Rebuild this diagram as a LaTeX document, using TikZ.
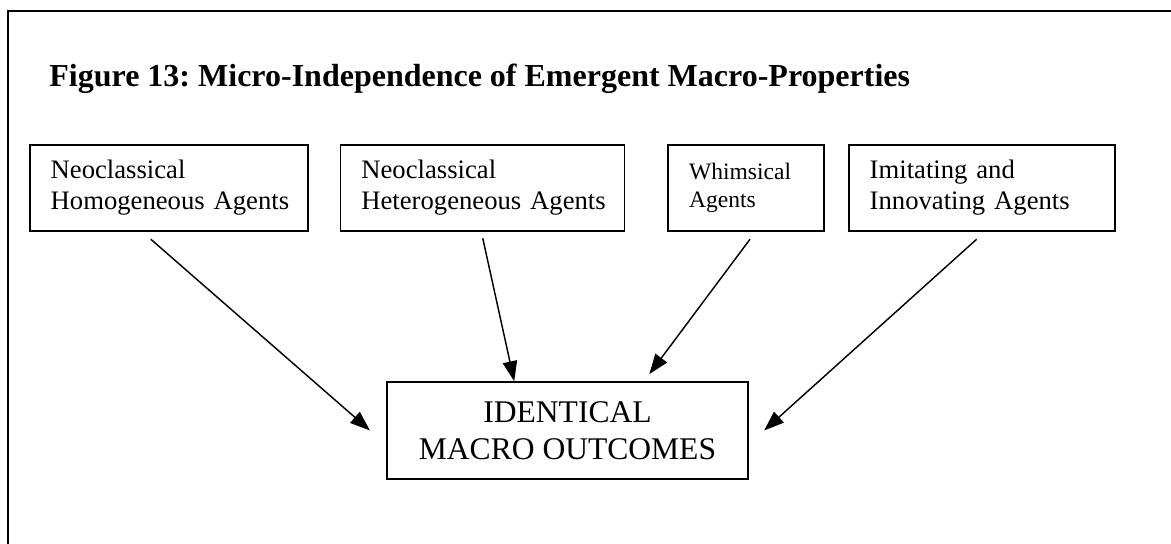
\documentclass[tikz,border=0pt]{standalone}
\usepackage{fontspec}
\setmainfont{Liberation Serif}
\usetikzlibrary{arrows.meta,positioning}
\frenchspacing

\begin{document}
\begin{tikzpicture}[
  x=0.45pt, y=-0.45pt,
  agent/.style={draw, line width=0.75pt, align=left, inner xsep=9.4pt, inner ysep=0pt,
                minimum height=38.7pt, font=\fontsize{12}{13.8}\selectfont},
  outcome/.style={draw, line width=0.75pt, align=center, minimum width=162.4pt,
                  minimum height=43.6pt, font=\fontsize{14.2}{16.5}\selectfont},
  arr/.style={->, line width=0.65pt},
  >={Triangle[length=9pt,width=6.5pt]}
]
  \useasboundingbox (0,0) rectangle (1171,544);
  % frame
  \draw[line width=0.75pt] (8,544) -- (8,11) -- (1171,11);

  \node[anchor=base west, inner sep=0pt, font=\fontsize{14.4}{17}\selectfont\bfseries] (title) at (49,87)
    {Figure 13: Micro-Independence of Emergent Macro-Properties};

  % the four kinds of agents
  \node[agent, anchor=north west, text width=106.3pt] (homo) at (29,144) {Neoclassical\\Homogeneous~Agents};
  \node[agent, right=13.95pt of homo, text width=109pt] (hetero) {Neoclassical\\Heterogeneous~Agents};
  \node[agent, right=18.9pt of hetero, text width=51.4pt, font=\fontsize{10.6}{12.6}\selectfont] (whim) {Whimsical\\Agents};
  \node[agent, right=10.35pt of whim, text width=100.9pt] (imit) {Imitating and\\Innovating~Agents};

  \node[outcome] (macro) at (567.5,430.5) {IDENTICAL\\MACRO OUTCOMES};

  \draw[arr] ([xshift=54.8pt,yshift=-3.4pt]homo.south west) -- ([xshift=-7.3pt]macro.west);
  \draw[arr] ([xshift=64.4pt,yshift=-3pt]hetero.south west) -- ([xshift=57.6pt]macro.north west);
  \draw[arr] ([xshift=37.2pt,yshift=-3.4pt]whim.south west) -- ([xshift=118.4pt,yshift=3.2pt]macro.north west);
  \draw[arr] ([xshift=57.9pt,yshift=-3.4pt]imit.south west) -- ([xshift=6.9pt]macro.east);
\end{tikzpicture}
\end{document}
